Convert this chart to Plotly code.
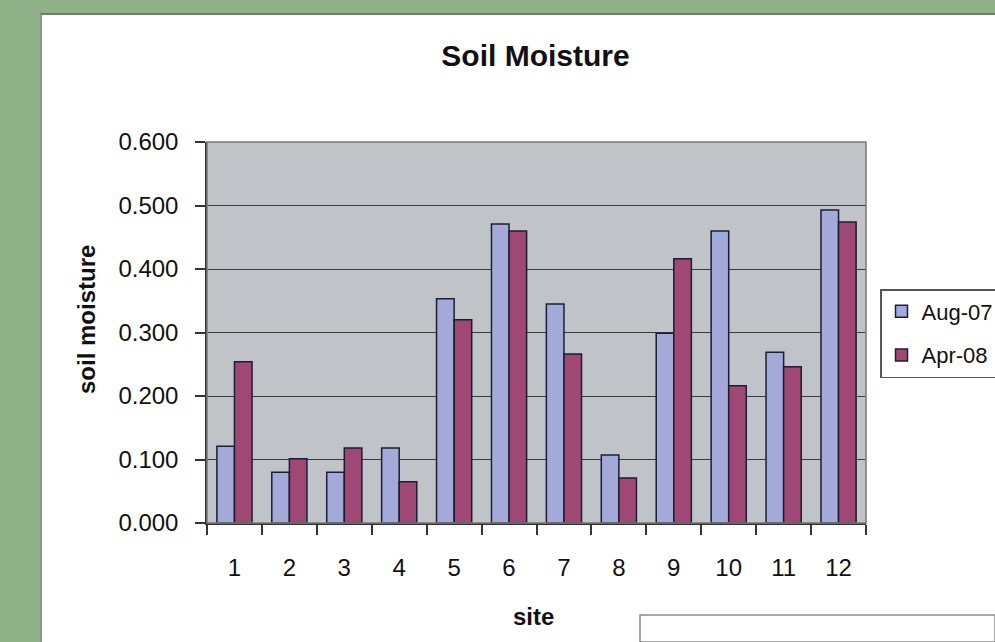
import plotly.graph_objects as go

# ---- data ----
sites = ["1", "2", "3", "4", "5", "6", "7", "8", "9", "10", "11", "12"]
aug_values = [0.121, 0.080, 0.080, 0.118, 0.353, 0.471, 0.345, 0.107, 0.299, 0.460, 0.269, 0.493]
apr_values = [0.254, 0.101, 0.118, 0.065, 0.320, 0.460, 0.266, 0.071, 0.416, 0.216, 0.246, 0.474]
series_names = ["Aug-07", "Apr-08"]
y_ticks = [0.0, 0.1, 0.2, 0.3, 0.4, 0.5, 0.6]
y_tick_labels = ["0.000", "0.100", "0.200", "0.300", "0.400", "0.500", "0.600"]

# ---- geometry (pixels) ----
W, H = 995, 642
L, R, T, B = 207, 866, 142, 523
pw, ph = R - L, B - T


def px(x):
    return (x - L) / pw


def py(y):
    return (B - y) / ph


FONT = "Liberation Sans, Arial, sans-serif"
GREEN = "#8fb187"

fig = go.Figure()
fig.add_trace(go.Bar(
    x=sites, y=aug_values, name=series_names[0], legendgroup="a",
    marker=dict(color="#a3aad9", line=dict(color="#1c1c38", width=1.5)),
))
fig.add_trace(go.Bar(
    x=sites, y=apr_values, name=series_names[1], legendgroup="b",
    marker=dict(color="#9e4873", line=dict(color="#1c1c38", width=1.5)),
))

shapes = [
    # green frame strips
    dict(type="rect", xref="paper", yref="paper", x0=px(0), x1=px(W), y0=py(0), y1=py(13),
         fillcolor=GREEN, line=dict(width=0), layer="above"),
    dict(type="rect", xref="paper", yref="paper", x0=px(0), x1=px(40), y0=py(0), y1=py(H),
         fillcolor=GREEN, line=dict(width=0), layer="above"),
    # shadow lines of white panel
    dict(type="line", xref="paper", yref="paper", x0=px(40), x1=px(W), y0=py(14), y1=py(14),
         line=dict(color="#6f7a6c", width=2), layer="above"),
    dict(type="line", xref="paper", yref="paper", x0=px(41), x1=px(41), y0=py(14), y1=py(H),
         line=dict(color="#8f958c", width=2), layer="above"),
    # plot area border
    dict(type="rect", xref="paper", yref="paper", x0=0, x1=1, y0=0, y1=1,
         line=dict(color="#7a7a7a", width=1.5), layer="above"),
    # bottom-right text box
    dict(type="rect", xref="paper", yref="paper", x0=px(640), x1=px(W), y0=py(615), y1=py(H),
         fillcolor="white", line=dict(color="#8a8a8a", width=1.5), layer="above"),
]

annotations = [
    dict(text="<b>soil moisture</b>", xref="paper", yref="paper", x=px(86), y=py(320),
         textangle=-90, showarrow=False, xanchor="center", yanchor="middle",
         font=dict(family=FONT, size=24, color="#111")),
    dict(text="<b>site</b>", xref="paper", yref="paper", x=px(533), y=py(616),
         showarrow=False, xanchor="center", yanchor="middle",
         font=dict(family=FONT, size=24, color="#111")),
]

fig.update_layout(
    width=W, height=H,
    margin=dict(l=L, r=W - R, t=T, b=H - B, pad=0, autoexpand=False),
    paper_bgcolor="white",
    plot_bgcolor="#c0c3c7",
    barmode="group", bargap=0.36, bargroupgap=0,
    title=dict(text="<b>Soil Moisture</b>", x=px(535.5), xref="paper", xanchor="center",
               y=1 - 55 / H, yanchor="middle",
               font=dict(family=FONT, size=30, color="#111")),
    font=dict(family=FONT, size=24, color="#111"),
    showlegend=True,
    legend=dict(x=px(880), y=py(289), xanchor="left", yanchor="top",
                bgcolor="white", bordercolor="#555", borderwidth=1.5,
                traceorder="grouped", tracegroupgap=12,
                font=dict(family=FONT, size=22, color="#111")),
    shapes=shapes,
    annotations=annotations,
)

fig.update_xaxes(
    type="category", showline=True, linecolor="#333", linewidth=1.5,
    ticks="outside", tickson="boundaries", ticklen=10, tickcolor="#333", tickwidth=1.5,
    ticklabelstandoff=22, tickfont=dict(family=FONT, size=24, color="#111"),
    showgrid=False,
)
fig.update_yaxes(
    range=[0, 0.6], tickvals=y_ticks, ticktext=y_tick_labels,
    showline=True, linecolor="#333", linewidth=1.5,
    ticks="outside", ticklen=10, tickcolor="#333", tickwidth=1.5,
    ticklabelstandoff=12, tickfont=dict(family=FONT, size=24, color="#111"),
    showgrid=True, gridcolor="#3a3a3a", gridwidth=1, zeroline=False,
)

fig.write_html("out.html", post_script="document.body.style.overflow='hidden';")
